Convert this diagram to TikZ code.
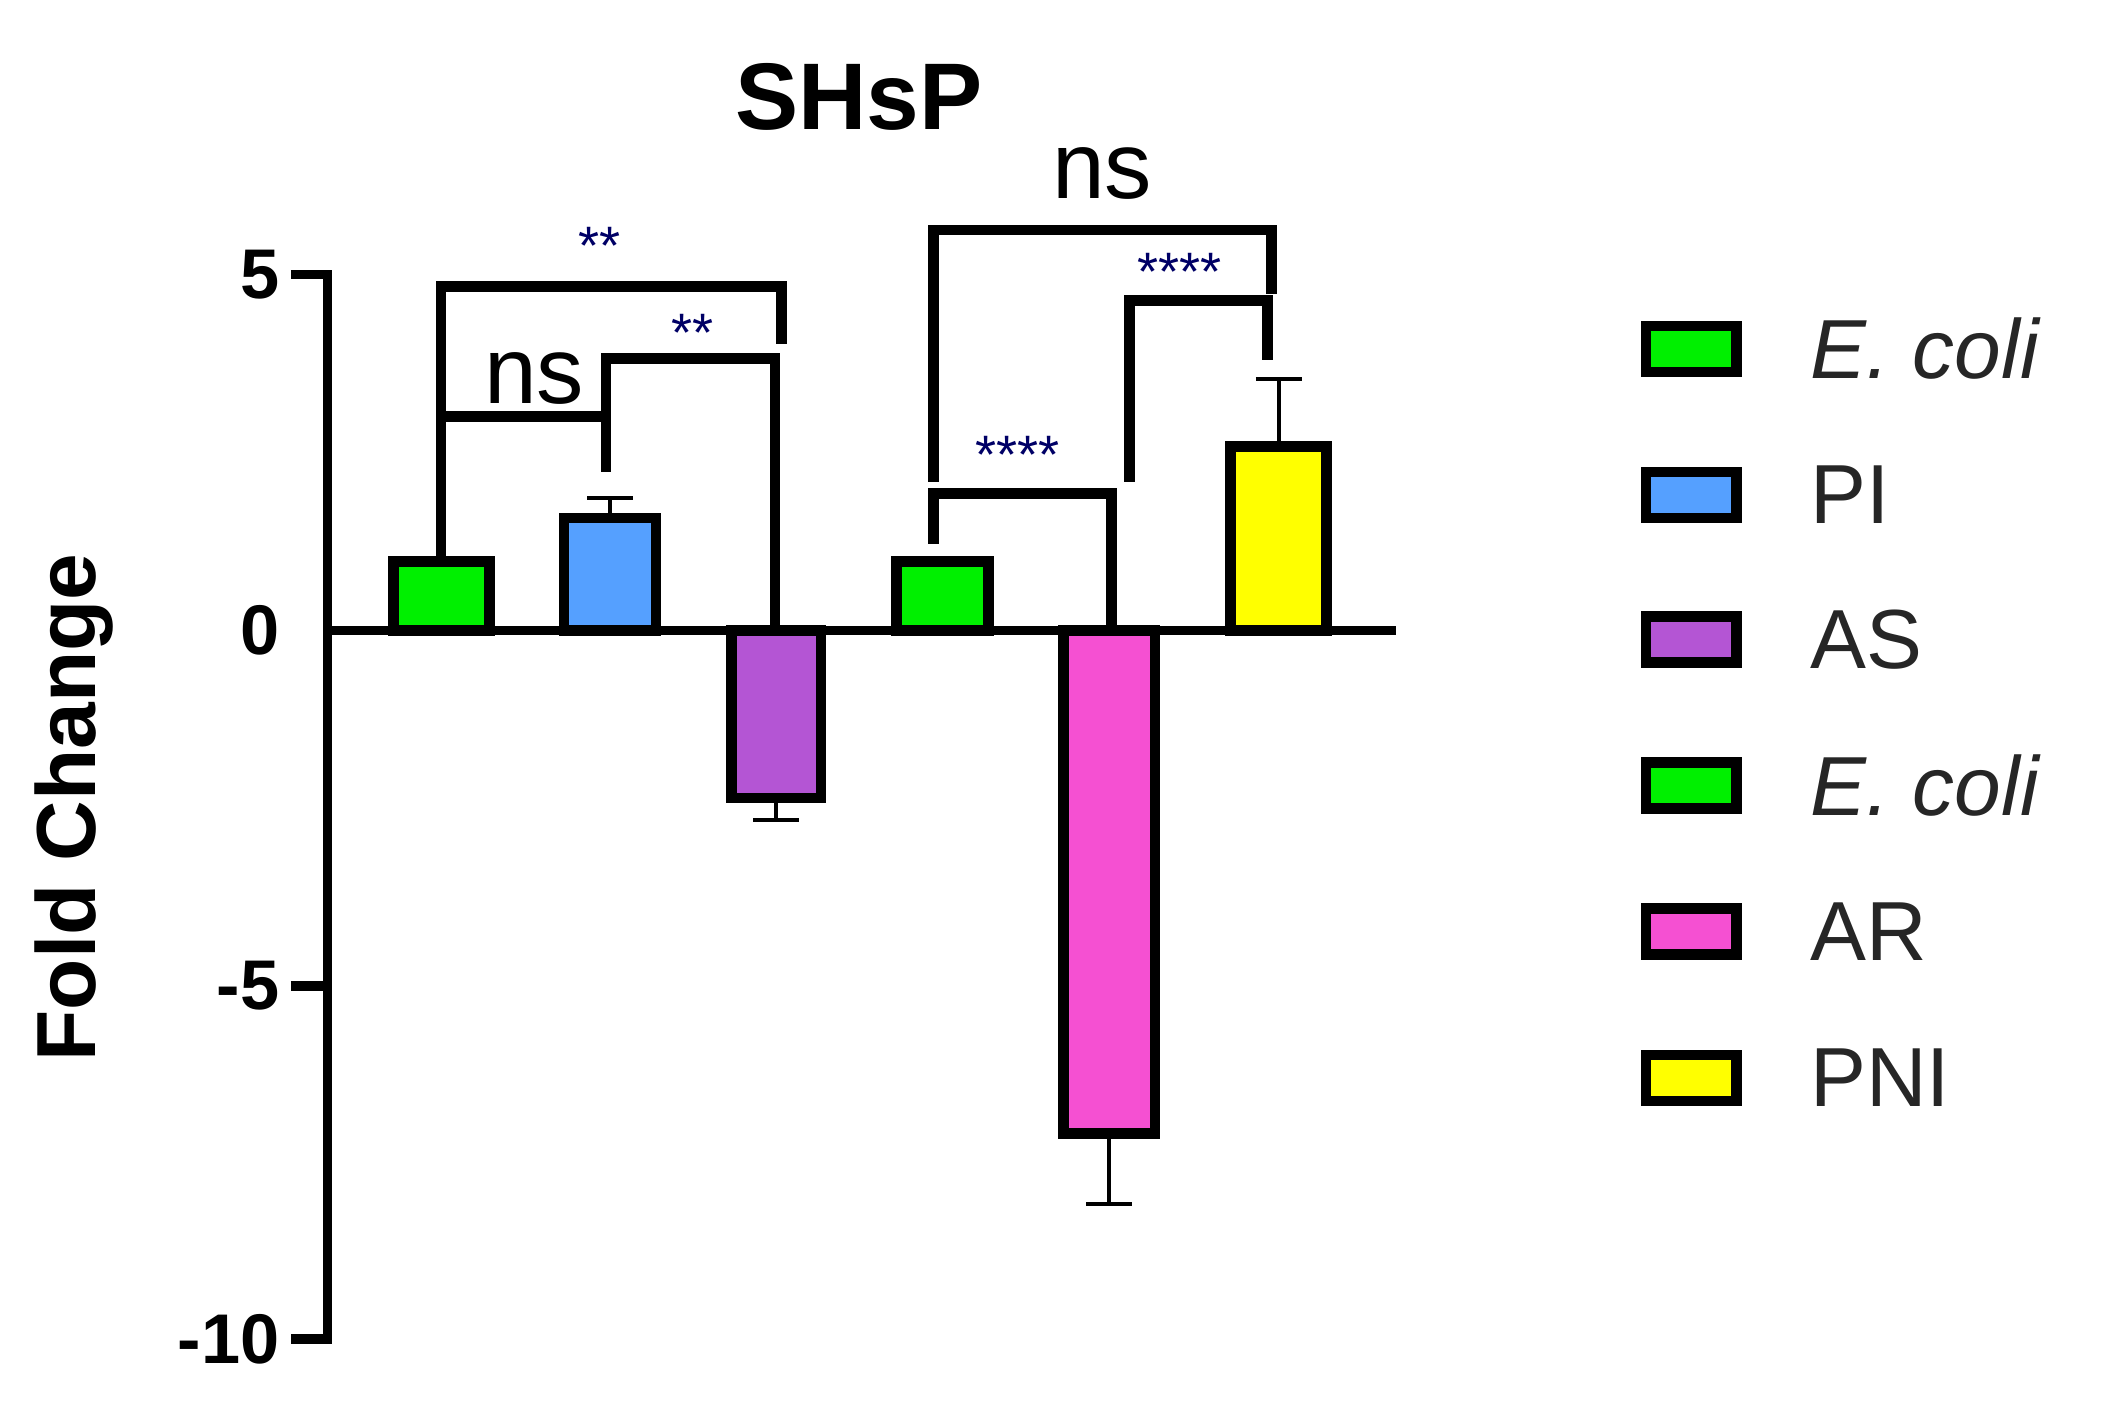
\documentclass[tikz,border=0pt]{standalone}
\usepackage{fontspec}
\setmainfont{Liberation Sans}
\definecolor{cEc}{HTML}{00F000}
\definecolor{cPI}{HTML}{55A0FF}
\definecolor{cAS}{HTML}{B455D4}
\definecolor{cAR}{HTML}{F550D2}
\definecolor{cPNI}{HTML}{FFFF00}
\tikzset{
  bar/.style={draw=black, line width=8pt},
  err/.style={line width=3pt},
  brk/.style={line width=8pt, line cap=rect},
  sig/.style={font=\fontsize{70}{70}\selectfont},
  star/.style={font=\fontsize{40}{40}\selectfont, text=blue!40!black},
  lab/.style={font=\fontsize{62}{62}\selectfont, text=black!85, anchor=west}
}
\begin{document}
\begin{tikzpicture}[x=1pt,y=-1pt]
  \useasboundingbox (0,0) rectangle (1563,1049);
  % axes
  \draw [line width=7pt] (215,203) -- (242,203) -- (242,990) -- (215,990);
  \draw [line width=7pt] (215,729) -- (242,729);
  \foreach \yy/\tx in {203/5,466/0,729/-5,990/-10}
    \node [anchor=east, font=\bfseries\fontsize{52}{52}\selectfont] (t\tx) at (210,\yy) {\tx};
  % bars
  \foreach \xa/\xb/\yy/\ye/\cc in {287/366/415/415/cEc, 413/489/383/368/cPI,
      537/611/590/606/cAS, 659/735/415/415/cEc, 782/858/838/890/cAR, 906/985/330/280/cPNI}{
    \draw [err] ({(\xa+\xb)/2},\yy) -- ({(\xa+\xb)/2},\ye)
      ({(\xa+\xb)/2-17},\ye) -- ({(\xa+\xb)/2+17},\ye);
    \draw [bar, fill=\cc] (\xa+4,466) rectangle (\xb-4,\yy);
  }
  \draw [line width=7pt] (242,466) -- (1032,466);
  % brackets
  \draw [brk] (326,412) -- (326,212) -- (578,212) -- (578,250);
  \draw [brk] (326,308) -- (448,308) -- (448,345);
  \draw [brk] (448,308) -- (448,265) -- (573,265) -- (573,466);
  \draw [brk] (690,398) -- (690,365) -- (822,365) -- (822,466);
  \draw [brk] (835,352) -- (835,222) -- (937,222) -- (937,262);
  \draw [brk] (690,352) -- (690,170) -- (940,170) -- (940,213);
  \node [star] (s1) at (443,182) {**};
  \node [sig] (n1) at (395,280) {ns};
  \node [star] (s2) at (512,246) {**};
  \node [star] (s3) at (752,336) {****};
  \node [star] (s4) at (872,201) {****};
  \node [sig] (n2) at (815,128) {ns};
  % title and axis label
  \node [font=\bfseries\fontsize{70}{70}\selectfont] (title) at (635,72) {SHsP};
  \node [rotate=90, font=\bfseries\fontsize{62}{62}\selectfont] (ylab) at (55,597) {Fold Change};
  % legend
  \foreach \yy/\cc/\tx [count=\i] in {258/cEc/\textit{E. coli}, 366/cPI/PI, 473/cAS/AS,
      581/cEc/\textit{E. coli}, 689/cAR/AR, 797/cPNI/PNI}{
    \draw [bar, fill=\cc] (1217,\yy-17) rectangle (1284,\yy+17);
    \node [lab] (l\i) at (1335,\yy) {\tx};
  }
\end{tikzpicture}
\end{document}
